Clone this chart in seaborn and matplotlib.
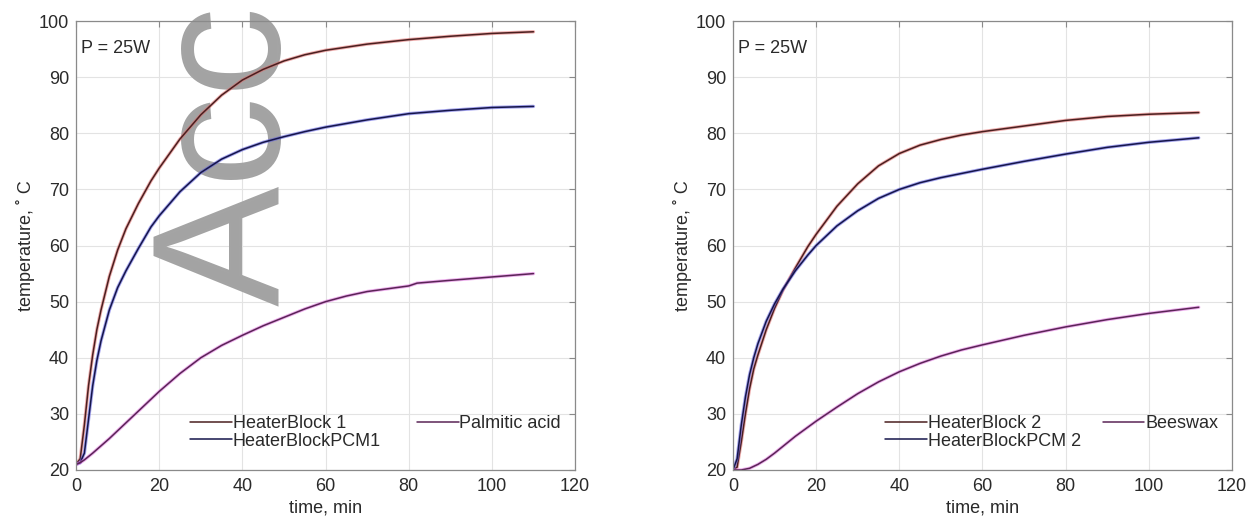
import matplotlib
matplotlib.use("Agg")
import matplotlib.pyplot as plt
import matplotlib.patheffects as pe
import seaborn as sns
import pandas as pd

# left panel (P = 25W, palmitic acid)
t_hb1 = [0, 1, 2, 3, 4, 5, 6, 8, 10, 12, 15, 18, 20, 25, 30, 35, 40, 45, 50, 55, 60, 70, 80, 90, 100, 110]
temp_hb1 = [21, 22, 28, 35, 40.5, 45, 48.5, 54.5, 59.2, 63, 67.5, 71.5, 73.8, 79, 83.3, 86.8, 89.5,
            91.4, 92.9, 94, 94.8, 95.9, 96.7, 97.3, 97.8, 98.1]
t_pcm1 = [0, 1, 2, 3, 4, 5, 6, 8, 10, 12, 15, 18, 20, 25, 30, 35, 40, 45, 50, 55, 60, 70, 80, 90, 100, 110]
temp_pcm1 = [21, 21.3, 23, 29, 35, 39.5, 43, 48.5, 52.5, 55.5, 59.5, 63.3, 65.3, 69.6, 73, 75.4, 77.1,
             78.4, 79.4, 80.3, 81.1, 82.4, 83.5, 84.1, 84.6, 84.8]
t_palm = [0, 1, 2, 4, 6, 8, 10, 12, 15, 20, 25, 30, 35, 40, 45, 50, 55, 60, 65, 70, 75, 80, 82, 90, 100, 110]
temp_palm = [21, 21.3, 21.8, 23, 24.3, 25.6, 27, 28.4, 30.5, 34, 37.2, 40, 42.2, 44, 45.7, 47.2, 48.7,
             50, 51, 51.8, 52.3, 52.8, 53.3, 53.8, 54.4, 55]

# right panel (P = 25W, beeswax)
t_hb2 = [0, 1, 2, 3, 4, 5, 6, 8, 10, 12, 15, 18, 20, 25, 30, 35, 40, 45, 50, 55, 60, 70, 80, 90, 100, 112]
temp_hb2 = [20, 20.5, 25, 30, 34.5, 38, 40.5, 45, 48.8, 52, 56, 59.8, 62, 67, 71, 74.2, 76.4, 77.9,
            78.9, 79.7, 80.3, 81.3, 82.3, 83, 83.4, 83.7]
t_pcm2 = [0, 1, 2, 3, 4, 5, 6, 8, 10, 12, 15, 18, 20, 25, 30, 35, 40, 45, 50, 60, 70, 80, 90, 100, 112]
temp_pcm2 = [20, 22, 28, 33, 37, 40, 42.5, 46.5, 49.6, 52.2, 55.5, 58.3, 60, 63.5, 66.2, 68.4, 70,
             71.2, 72.1, 73.6, 75, 76.3, 77.5, 78.4, 79.2]
t_bees = [0, 2, 4, 6, 8, 10, 12, 15, 20, 25, 30, 35, 40, 45, 50, 55, 60, 70, 80, 90, 100, 112]
temp_bees = [20, 20, 20.3, 21, 21.9, 23, 24.2, 26, 28.7, 31.2, 33.6, 35.7, 37.5, 39, 40.3, 41.4,
             42.3, 44, 45.5, 46.8, 47.9, 49]

labels_left = ["HeaterBlock 1", "HeaterBlockPCM1", "Palmitic acid"]
labels_right = ["HeaterBlock 2", "HeaterBlockPCM 2", "Beeswax"]
x_ticks = [0, 20, 40, 60, 80, 100, 120]
y_ticks = [20, 30, 40, 50, 60, 70, 80, 90, 100]

# dark core colour and light halo colour for each series
core_colors = ["#4a1f1f", "#15154a", "#5a2456"]
halo_colors = ["#e06a6a", "#5a5ae0", "#e070e0"]
txt_color = "#2a2a2a"
fs = 13


def make_frame(series, labels):
    parts = []
    for (t, temp), lab in zip(series, labels):
        parts.append(pd.DataFrame({"time": t, "temp": temp, "series": lab}))
    return pd.concat(parts, ignore_index=True)


sns.set_theme(style="whitegrid")
plt.rcParams["font.family"] = ["Liberation Sans", "DejaVu Sans"]

fig = plt.figure(figsize=(12.57, 5.25), dpi=100)
ax_l = fig.add_axes([0.0605, 0.1048, 0.397, 0.855])
ax_r = fig.add_axes([0.5831, 0.1048, 0.397, 0.855])

panels = [
    (ax_l, make_frame([(t_hb1, temp_hb1), (t_pcm1, temp_pcm1), (t_palm, temp_palm)], labels_left),
     labels_left, 2.0),
    (ax_r, make_frame([(t_hb2, temp_hb2), (t_pcm2, temp_pcm2), (t_bees, temp_bees)], labels_right),
     labels_right, 1.2),
]

for ax, df, labels, colsp in panels:
    sns.lineplot(data=df, x="time", y="temp", hue="series", hue_order=labels,
                 palette=dict(zip(labels, core_colors)), linewidth=1.1,
                 sort=False, ax=ax)
    for line, halo in zip(ax.get_lines(), halo_colors):
        line.set_path_effects([pe.Stroke(linewidth=2.4, foreground=halo, alpha=0.55), pe.Normal()])
        line.set_solid_joinstyle("round")

    ax.set_xlim(0, 120)
    ax.set_ylim(20, 100)
    ax.set_xticks(x_ticks)
    ax.set_yticks(y_ticks)
    ax.grid(True, color="#e3e3e3", linewidth=0.8)
    for sp in ax.spines.values():
        sp.set_visible(True)
        sp.set_color("#8a8a8a")
        sp.set_linewidth(0.9)
    ax.tick_params(axis="both", labelsize=fs, colors="#8a8a8a", labelcolor=txt_color,
                   direction="in", length=4, width=0.8, top=True, right=True)
    ax.tick_params(axis="x", pad=6)
    ax.tick_params(axis="y", pad=5)
    ax.set_xlabel("time, min", fontsize=fs, color=txt_color, labelpad=3)
    ax.set_ylabel("temperature, ˚ C", fontsize=fs, color=txt_color, labelpad=3)
    ax.text(1.1, 95.2, "P = 25W", fontsize=fs, color=txt_color, ha="left", va="center")

    handles, _ = ax.get_legend_handles_labels()
    leg = ax.legend(handles=handles, labels=labels, ncol=2, frameon=False,
                    loc="lower right", bbox_to_anchor=(0.972, 0.045),
                    borderaxespad=0, borderpad=0, fontsize=fs,
                    handlelength=2.3, handletextpad=0.05, columnspacing=colsp,
                    labelspacing=0.05)
    for txt in leg.get_texts():
        txt.set_color(txt_color)

# "Accepted Manuscript" watermark; only the first letters fall inside the page
ax_l.text(280 / 1257, 1 - 306 / 525, "Accepted", transform=fig.transFigure,
          rotation=90, rotation_mode="anchor", ha="left", va="baseline",
          fontsize=130, color="#a3a3a3", zorder=1.8, clip_on=False)

fig.savefig("out.png", dpi=100)
